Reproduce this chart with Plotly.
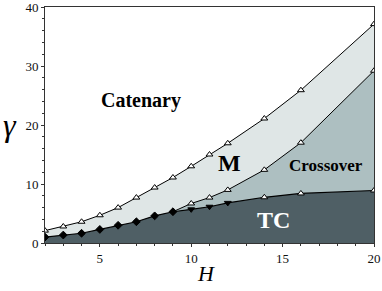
import plotly.graph_objects as go

# Data
H_top = [2, 3, 4, 5, 6, 7, 8, 9, 10, 11, 12, 14, 16, 20]
g_top = [2.1, 2.8, 3.6, 4.7, 6.0, 7.7, 9.4, 11.1, 13.0, 15.0, 16.9, 21.1, 25.9, 37.1]

H_mid = [9, 10, 11, 12, 14, 16, 20]
g_mid = [5.3, 6.7, 7.7, 9.0, 12.4, 17.0, 29.2]

H_bot = [2, 3, 4, 5, 6, 7, 8, 9, 10, 11, 12, 14, 16, 20]
g_bot = [1.0, 1.35, 1.65, 2.3, 3.0, 3.6, 4.6, 5.3, 5.7, 6.15, 6.8, 7.75, 8.4, 8.9]
bot_symbols = ["diamond"] * 8 + ["triangle-down"] * 3 + ["triangle-up-open"] * 3

x_ticks = [5, 10, 15, 20]
y_ticks = [0, 10, 20, 30, 40]

C_M = "#dfe6e6"
C_X = "#adbfc1"
C_TC = "#4f5f65"

fig = go.Figure()

fig.add_trace(go.Scatter(
    x=H_top, y=g_top, mode="lines+markers", fill="tozeroy", fillcolor=C_M,
    line=dict(color="black", width=1),
    marker=dict(symbol="triangle-up", size=6, color="white", line=dict(color="black", width=1)),
))
fig.add_trace(go.Scatter(
    x=H_mid, y=g_mid, mode="lines+markers", fill="tozeroy", fillcolor=C_X,
    line=dict(color="black", width=1),
    marker=dict(symbol="triangle-up", size=6, color="white", line=dict(color="black", width=1)),
))
fig.add_trace(go.Scatter(
    x=H_bot, y=g_bot, mode="lines+markers", fill="tozeroy", fillcolor=C_TC,
    line=dict(color="black", width=1.2),
    marker=dict(symbol=[s.replace("-open", "") for s in bot_symbols], size=6,
                color=["white" if "open" in s else "black" for s in bot_symbols],
                line=dict(color="black", width=1)),
))

serif = "Liberation Serif"
ann = [
    dict(x=7.23, y=24.2, text="<b>Catenary</b>", font=dict(size=20, color="black")),
    dict(x=12.1, y=13.5, text="<b>M</b>", font=dict(size=24, color="black")),
    dict(x=17.4, y=13.2, text="<b>Crossover</b>", font=dict(size=17, color="black")),
    dict(x=14.5, y=3.9, text="<b>TC</b>", font=dict(size=24, color="white")),
]
for a in ann:
    a.update(xref="x", yref="y", showarrow=False, xanchor="center", yanchor="middle")
    a["font"]["family"] = serif
ann.append(dict(x=-0.106, y=0.5, xref="paper", yref="paper", text="<i>γ</i>", showarrow=False,
                xanchor="center", yanchor="middle",
                font=dict(family=serif, size=32, color="black")))
ann.append(dict(x=0.489, y=-0.13, xref="paper", yref="paper", text="<i>H</i>", showarrow=False,
                xanchor="center", yanchor="middle",
                font=dict(family=serif, size=22, color="black")))

fig.update_layout(
    width=382, height=291,
    margin=dict(l=45, r=8, t=7, b=48),
    paper_bgcolor="white", plot_bgcolor="white",
    showlegend=False,
    hovermode=False,
    annotations=ann,
    font=dict(family=serif, size=13, color="#111"),
)
fig.update_xaxes(range=[2, 20], tickvals=x_ticks, showgrid=False, zeroline=False, automargin=False,
                 showline=True, linecolor="#333", linewidth=1, mirror=True,
                 ticks="outside", ticklen=3, tickcolor="#333", ticklabeloverflow="allow",
                 tickfont=dict(family=serif, size=13, color="#111"),
                 minor=dict(dtick=1, tick0=0, ticks="outside", ticklen=2, tickcolor="#333"))
fig.update_yaxes(range=[0, 40], tickvals=y_ticks, showgrid=False, zeroline=False, automargin=False,
                 showline=True, linecolor="#333", linewidth=1, mirror=True,
                 ticks="outside", ticklen=3, tickcolor="#333", ticklabeloverflow="allow",
                 tickfont=dict(family=serif, size=13, color="#111"),
                 minor=dict(dtick=2, tick0=0, ticks="outside", ticklen=2, tickcolor="#333"))

# remove the default 8px page margin so the figure fills the window exactly
fig.write_html("out.html", config={"displayModeBar": False},
               post_script="document.body.style.margin='0';")
